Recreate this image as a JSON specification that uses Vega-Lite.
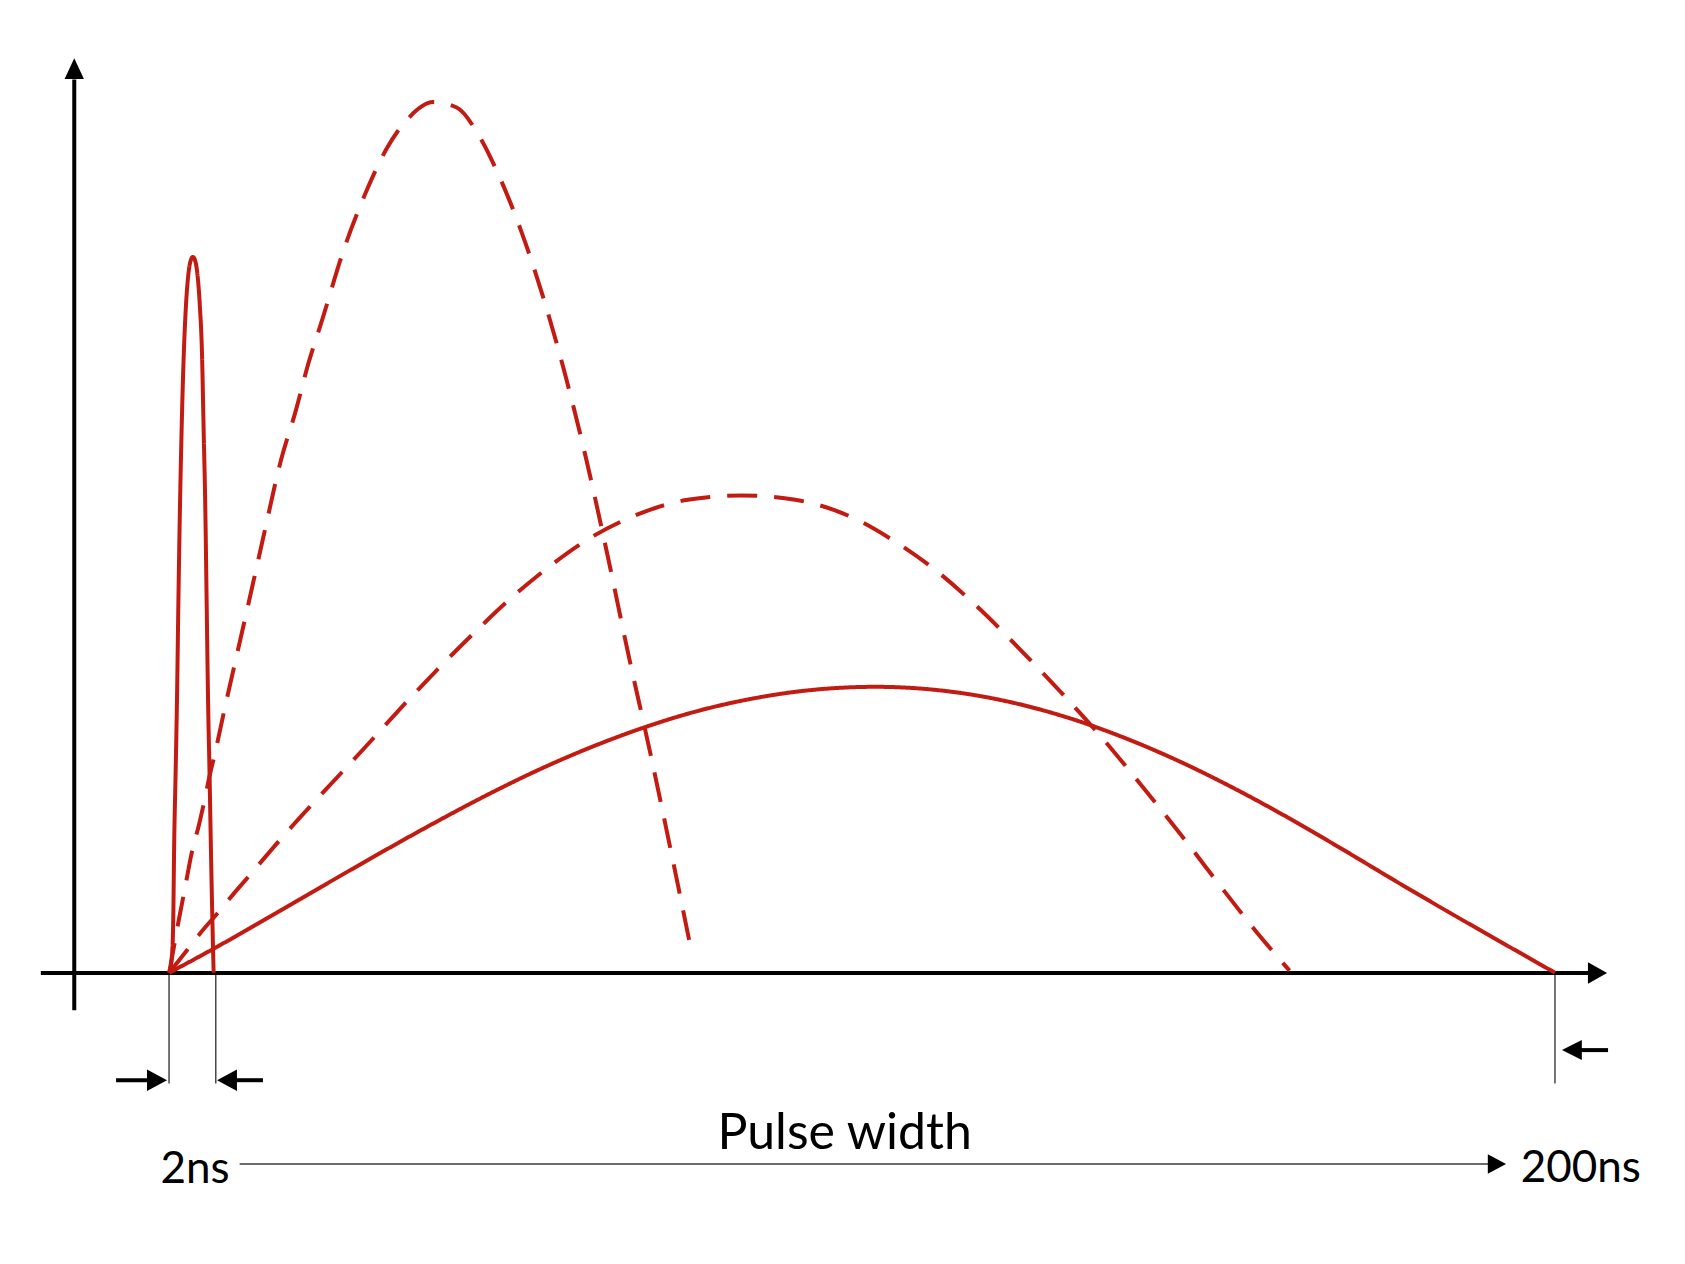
{
"$schema": "https://vega.github.io/schema/vega-lite/v6.json",
"width": 1685, "height": 1264,
"autosize": {"type": "fit", "contains": "padding"},
"padding": 0,
"background": "white",
"config": {"view": {"stroke": null}},
"datasets": {
"guides": [
{"id":"g1","o":1,"x":157.3,"y":905},{"id":"g1","o":2,"x":157.3,"y":1008},
{"id":"g2","o":1,"x":200.8,"y":905},{"id":"g2","o":2,"x":200.8,"y":1008},
{"id":"g3","o":1,"x":1447,"y":905},{"id":"g3","o":2,"x":1447,"y":1008},
{"id":"g4","o":1,"x":223,"y":1083},{"id":"g4","o":2,"x":1386,"y":1083}
],
"axes": [
{"id":"xa","o":1,"x":38,"y":905.2},{"id":"xa","o":2,"x":1479,"y":905.2},
{"id":"ya","o":1,"x":69.1,"y":940},{"id":"ya","o":2,"x":69.1,"y":74},
{"id":"a1","o":1,"x":108,"y":1005},{"id":"a1","o":2,"x":138,"y":1005},
{"id":"a2","o":1,"x":219.5,"y":1005},{"id":"a2","o":2,"x":244.7,"y":1005},
{"id":"a3","o":1,"x":1471,"y":977},{"id":"a3","o":2,"x":1496.4,"y":977}
],
"heads": [
{"id":"t1","x":1477.7,"ylo":895.2,"yhi":915.2},{"id":"t1","x":1495.5,"ylo":905.2,"yhi":905.2},
{"id":"t2","x":136.8,"ylo":995,"yhi":1015},{"id":"t2","x":155.4,"ylo":1005,"yhi":1005},
{"id":"t3","x":220.5,"ylo":995,"yhi":1015},{"id":"t3","x":202,"ylo":1005,"yhi":1005},
{"id":"t4","x":1472,"ylo":967.7,"yhi":986.3},{"id":"t4","x":1453.5,"ylo":977,"yhi":977},
{"id":"t5","x":1384.5,"ylo":1074,"yhi":1092},{"id":"t5","x":1401.5,"ylo":1083,"yhi":1083}
],
"vhead": [
{"y":73.5,"xlo":60.1,"xhi":78.1},{"y":54.3,"xlo":69.1,"xhi":69.1}
],
"curves": [
{"c":"narrow","d":"solid","x":157.5,"y":905},{"c":"narrow","d":"solid","x":160.3,"y":885},{"c":"narrow","d":"solid","x":161.3,"y":850},{"c":"narrow","d":"solid","x":162,"y":791},{"c":"narrow","d":"solid","x":163.4,"y":720},{"c":"narrow","d":"solid","x":164.7,"y":651},{"c":"narrow","d":"solid","x":166,"y":560},{"c":"narrow","d":"solid","x":167.5,"y":470},{"c":"narrow","d":"solid","x":169,"y":400},{"c":"narrow","d":"solid","x":171,"y":330},{"c":"narrow","d":"solid","x":173,"y":285},{"c":"narrow","d":"solid","x":175,"y":258},{"c":"narrow","d":"solid","x":177,"y":244},{"c":"narrow","d":"solid","x":179.5,"y":239},{"c":"narrow","d":"solid","x":182,"y":244},{"c":"narrow","d":"solid","x":184,"y":258},{"c":"narrow","d":"solid","x":186,"y":285},{"c":"narrow","d":"solid","x":188,"y":330},{"c":"narrow","d":"solid","x":189.5,"y":400},{"c":"narrow","d":"solid","x":191,"y":470},{"c":"narrow","d":"solid","x":192.3,"y":560},{"c":"narrow","d":"solid","x":193.6,"y":651},{"c":"narrow","d":"solid","x":195,"y":720},{"c":"narrow","d":"solid","x":196.3,"y":791},{"c":"narrow","d":"solid","x":197.5,"y":850},{"c":"narrow","d":"solid","x":198.8,"y":905},
{"c":"tall","d":"dashed","x":157.5,"y":905},{"c":"tall","d":"dashed","x":162,"y":880},{"c":"tall","d":"dashed","x":166,"y":858},{"c":"tall","d":"dashed","x":172,"y":827},{"c":"tall","d":"dashed","x":178.5,"y":793},{"c":"tall","d":"dashed","x":185,"y":768},{"c":"tall","d":"dashed","x":190,"y":746},{"c":"tall","d":"dashed","x":195,"y":722},{"c":"tall","d":"dashed","x":200,"y":701},{"c":"tall","d":"dashed","x":210,"y":655},{"c":"tall","d":"dashed","x":220,"y":611},{"c":"tall","d":"dashed","x":230,"y":567},{"c":"tall","d":"dashed","x":245,"y":500},{"c":"tall","d":"dashed","x":261.5,"y":428},{"c":"tall","d":"dashed","x":275,"y":383},{"c":"tall","d":"dashed","x":287,"y":338},{"c":"tall","d":"dashed","x":300,"y":297},{"c":"tall","d":"dashed","x":320,"y":232},{"c":"tall","d":"dashed","x":340,"y":180},{"c":"tall","d":"dashed","x":360,"y":138},{"c":"tall","d":"dashed","x":380,"y":110},{"c":"tall","d":"dashed","x":403,"y":95},{"c":"tall","d":"dashed","x":425,"y":100},{"c":"tall","d":"dashed","x":445,"y":125},{"c":"tall","d":"dashed","x":465,"y":165},{"c":"tall","d":"dashed","x":485,"y":215},{"c":"tall","d":"dashed","x":505,"y":275},{"c":"tall","d":"dashed","x":525,"y":345},{"c":"tall","d":"dashed","x":545,"y":425},{"c":"tall","d":"dashed","x":565,"y":515},{"c":"tall","d":"dashed","x":585,"y":610},{"c":"tall","d":"dashed","x":605,"y":700},{"c":"tall","d":"dashed","x":625,"y":795},{"c":"tall","d":"dashed","x":643,"y":883},
{"c":"mid","d":"dashed","x":157.5,"y":905},{"c":"mid","d":"dashed","x":174,"y":884},{"c":"mid","d":"dashed","x":189,"y":865},{"c":"mid","d":"dashed","x":203,"y":849},{"c":"mid","d":"dashed","x":218.7,"y":830},{"c":"mid","d":"dashed","x":232.6,"y":814},{"c":"mid","d":"dashed","x":260,"y":782},{"c":"mid","d":"dashed","x":300,"y":738},{"c":"mid","d":"dashed","x":340,"y":695},{"c":"mid","d":"dashed","x":370,"y":662},{"c":"mid","d":"dashed","x":405,"y":625},{"c":"mid","d":"dashed","x":440,"y":590},{"c":"mid","d":"dashed","x":475,"y":557},{"c":"mid","d":"dashed","x":510,"y":528},{"c":"mid","d":"dashed","x":550,"y":500},{"c":"mid","d":"dashed","x":590,"y":480},{"c":"mid","d":"dashed","x":640,"y":465},{"c":"mid","d":"dashed","x":690,"y":461},{"c":"mid","d":"dashed","x":740,"y":465},{"c":"mid","d":"dashed","x":790,"y":480},{"c":"mid","d":"dashed","x":830,"y":502},{"c":"mid","d":"dashed","x":870,"y":530},{"c":"mid","d":"dashed","x":910,"y":565},{"c":"mid","d":"dashed","x":950,"y":605},{"c":"mid","d":"dashed","x":990,"y":647},{"c":"mid","d":"dashed","x":1020,"y":680},{"c":"mid","d":"dashed","x":1060,"y":728},{"c":"mid","d":"dashed","x":1100,"y":778},{"c":"mid","d":"dashed","x":1140,"y":830},{"c":"mid","d":"dashed","x":1170,"y":868},{"c":"mid","d":"dashed","x":1200,"y":903},
{"c":"wide","d":"solid","x":157.5,"y":905},{"c":"wide","d":"solid","x":200,"y":882},{"c":"wide","d":"solid","x":250,"y":853.5},{"c":"wide","d":"solid","x":300,"y":824.5},{"c":"wide","d":"solid","x":350,"y":795.8},{"c":"wide","d":"solid","x":400,"y":767.9},{"c":"wide","d":"solid","x":450,"y":741.3},{"c":"wide","d":"solid","x":500,"y":716.8},{"c":"wide","d":"solid","x":550,"y":695.2},{"c":"wide","d":"solid","x":600,"y":676.6},{"c":"wide","d":"solid","x":650,"y":661.3},{"c":"wide","d":"solid","x":700,"y":650},{"c":"wide","d":"solid","x":750,"y":642.5},{"c":"wide","d":"solid","x":815,"y":639},{"c":"wide","d":"solid","x":860,"y":640.9},{"c":"wide","d":"solid","x":900,"y":645.6},{"c":"wide","d":"solid","x":950,"y":655.5},{"c":"wide","d":"solid","x":1000,"y":669.7},{"c":"wide","d":"solid","x":1050,"y":687.9},{"c":"wide","d":"solid","x":1100,"y":709.5},{"c":"wide","d":"solid","x":1150,"y":734.3},{"c":"wide","d":"solid","x":1200,"y":761.5},{"c":"wide","d":"solid","x":1250,"y":790.6},{"c":"wide","d":"solid","x":1300,"y":820.5},{"c":"wide","d":"solid","x":1350,"y":849.7},{"c":"wide","d":"solid","x":1400,"y":878.3},{"c":"wide","d":"solid","x":1447,"y":905}
],
"bigtext": [{"label":"Pulse width","x":786,"y":1069}],
"smalltext": [{"label":"2ns","x":181.5,"y":1101},{"label":"200ns","x":1471,"y":1100}]
},
"layer": [
{
"data": {"name": "guides"},
"mark": {"type": "line", "stroke": "#3a3a3a", "strokeWidth": 1.4},
"encoding": {
"x": {"field": "x", "type": "quantitative", "scale": {"domain": [0, 1568], "nice": false, "zero": false}, "axis": null},
"y": {"field": "y", "type": "quantitative", "scale": {"domain": [0, 1176], "nice": false, "zero": false, "reverse": true}, "axis": null},
"detail": {"field": "id"},
"order": {"field": "o"}
}
},
{
"data": {"name": "axes"},
"mark": {"type": "line", "stroke": "black", "strokeWidth": 4},
"encoding": {
"x": {"field": "x", "type": "quantitative", "scale": {"domain": [0, 1568], "nice": false, "zero": false}, "axis": null},
"y": {"field": "y", "type": "quantitative", "scale": {"domain": [0, 1176], "nice": false, "zero": false, "reverse": true}, "axis": null},
"detail": {"field": "id"},
"order": {"field": "o"}
}
},
{
"data": {"name": "heads"},
"mark": {"type": "area", "fill": "black", "orient": "vertical"},
"encoding": {
"x": {"field": "x", "type": "quantitative", "scale": {"domain": [0, 1568], "nice": false, "zero": false}, "axis": null},
"y": {"field": "ylo", "type": "quantitative", "scale": {"domain": [0, 1176], "nice": false, "zero": false, "reverse": true}, "axis": null},
"y2": {"field": "yhi"},
"detail": {"field": "id"}
}
},
{
"data": {"name": "vhead"},
"mark": {"type": "area", "fill": "black", "orient": "horizontal"},
"encoding": {
"y": {"field": "y", "type": "quantitative", "scale": {"domain": [0, 1176], "nice": false, "zero": false, "reverse": true}, "axis": null},
"x": {"field": "xlo", "type": "quantitative", "scale": {"domain": [0, 1568], "nice": false, "zero": false}, "axis": null},
"x2": {"field": "xhi"}
}
},
{
"data": {"name": "curves"},
"mark": {"type": "line", "stroke": "#c21b12", "strokeWidth": 4, "interpolate": "monotone", "strokeJoin": "round"},
"encoding": {
"x": {"field": "x", "type": "quantitative", "scale": {"domain": [0, 1568], "nice": false, "zero": false}, "axis": null},
"y": {"field": "y", "type": "quantitative", "scale": {"domain": [0, 1176], "nice": false, "zero": false, "reverse": true}, "axis": null},
"detail": {"field": "c"},
"strokeDash": {"field": "d", "type": "nominal", "scale": {"domain": ["solid", "dashed"], "range": [[1, 0], [30, 17]]}, "legend": null}
}
},
{
"data": {"name": "bigtext"},
"mark": {"type": "text", "font": "Lato", "fontSize": 50, "color": "black", "align": "center", "baseline": "alphabetic"},
"encoding": {
"x": {"field": "x", "type": "quantitative", "scale": {"domain": [0, 1568], "nice": false, "zero": false}, "axis": null},
"y": {"field": "y", "type": "quantitative", "scale": {"domain": [0, 1176], "nice": false, "zero": false, "reverse": true}, "axis": null},
"text": {"field": "label"}
}
},
{
"data": {"name": "smalltext"},
"mark": {"type": "text", "font": "Lato", "fontSize": 44, "color": "black", "align": "center", "baseline": "alphabetic"},
"encoding": {
"x": {"field": "x", "type": "quantitative", "scale": {"domain": [0, 1568], "nice": false, "zero": false}, "axis": null},
"y": {"field": "y", "type": "quantitative", "scale": {"domain": [0, 1176], "nice": false, "zero": false, "reverse": true}, "axis": null},
"text": {"field": "label"}
}
}
]
}
